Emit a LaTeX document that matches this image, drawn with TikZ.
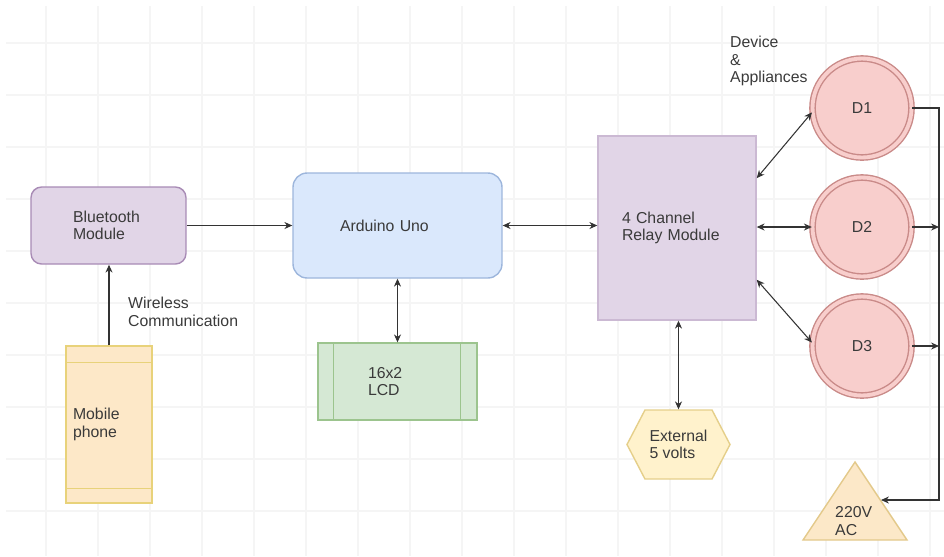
\documentclass[tikz,border=0pt]{standalone}
\usepackage{fontspec}
\setmainfont{Liberation Sans}
\usepackage{xcolor}
\usetikzlibrary{shapes.symbols, arrows.meta, calc}

\definecolor{purplefill}{HTML}{E1D5E7}
\definecolor{purpleline}{HTML}{A88BB5}
\definecolor{bluefill}{HTML}{DAE8FC}
\definecolor{blueline}{HTML}{9DB6DC}
\definecolor{greenfill}{HTML}{D5E8D4}
\definecolor{greenline}{HTML}{9CC48E}
\definecolor{phonefill}{HTML}{FDE8C8}
\definecolor{phoneline}{HTML}{E8D27A}
\definecolor{hexfill}{HTML}{FFF2CC}
\definecolor{hexline}{HTML}{E5CF8A}
\definecolor{circfill}{HTML}{F8CECC}
\definecolor{circline}{HTML}{C98A88}
\definecolor{trifill}{HTML}{FCE8C8}
\definecolor{triline}{HTML}{E3C98A}
\definecolor{textgray}{HTML}{3A3A3A}
\definecolor{wiregray}{HTML}{333333}

\tikzset{
  txt/.style={font=\fontsize{9}{10}\selectfont, text=textgray, align=left},
  block/.style={txt, draw, line width=0.8pt, inner ysep=0pt},
  purplebox/.style={block, fill=purplefill, draw=purpleline},
  bluebox/.style={block, fill=bluefill, draw=blueline},
  greenbox/.style={block, fill=greenfill, draw=greenline},
  phonebox/.style={block, fill=phonefill, draw=phoneline},
  hexbox/.style={block, fill=hexfill, draw=hexline, signal, signal to=west and east, signal pointer angle=125},
  devicecirc/.style={txt, circle, draw=circline, fill=circfill, double=circfill, double distance=2.2pt, line width=0.8pt, minimum size=1.98cm},
  link/.style={-{Stealth[length=4.5pt,width=4pt]}, draw=wiregray, line width=0.6pt},
  duplex/.style={{Stealth[length=4.5pt,width=4pt]}-{Stealth[length=4.5pt,width=4pt]}, draw=wiregray, line width=0.6pt},
  gridline/.style={draw=black!4, line width=0.6pt}
}

\begin{document}
\begin{tikzpicture}[x=0.02cm, y=-0.02cm]
  \useasboundingbox (0,0) rectangle (944,556);
  % background grid
  \foreach \gx in {46,98,...,930} \draw[gridline] (\gx,6) -- (\gx,556);
  \foreach \gy in {43,95,...,511} \draw[gridline] (6,\gy) -- (944,\gy);

  % blocks
  \node[purplebox, rounded corners=6pt, minimum width=3.1cm, minimum height=1.54cm,
        text width=1.42cm, inner xsep=0.84cm] (bluetooth) at (108.5,225.5) {Bluetooth\\Module};
  \node[bluebox, rounded corners=8pt, minimum width=4.18cm, minimum height=2.1cm,
        text width=2.3cm, inner xsep=0.94cm] (arduino) at (397.5,225.5) {Arduino Uno};
  \node[greenbox, minimum width=3.18cm, minimum height=1.54cm,
        text width=1.18cm, inner xsep=1cm] (lcd) at (397.5,381.5) {16x2\\LCD};
  \draw[greenline, line width=0.8pt] ($(lcd.north west)+(16,0)$) -- ($(lcd.south west)+(16,0)$);
  \draw[greenline, line width=0.8pt] ($(lcd.north east)+(-17,0)$) -- ($(lcd.south east)+(-17,0)$);
  \node[phonebox, minimum width=1.72cm, minimum height=3.14cm,
        text width=1.44cm, inner xsep=0.14cm] (phone) at (109,424.5) {Mobile\\phone};
  \draw[phoneline, line width=0.8pt] ($(phone.north west)+(0,17)$) -- ($(phone.north east)+(0,17)$);
  \draw[phoneline, line width=0.8pt] ($(phone.south west)+(0,-15)$) -- ($(phone.south east)+(0,-15)$);
  \node[purplebox, draw=purpleline!60, minimum width=3.16cm, minimum height=3.68cm,
        text width=2.2cm, inner xsep=0.48cm] (relay) at (677,228) {4 Channel\\Relay Module};
  \node[hexbox, minimum width=2.06cm, minimum height=1.38cm, inner xsep=2pt] (supply) at (678.5,444.5) {External\\5 volts};

  % devices
  \node[devicecirc] (d1) at (862,108) {D1};
  \node[devicecirc] (d2) at (862,227) {D2};
  \node[devicecirc] (d3) at (862,346) {D3};
  \node[txt, anchor=west] (devices) at (724,61) {Device\\\&\\Appliances};

  % mains
  \draw[fill=trifill, draw=triline, line width=0.8pt] (855,462) -- (907,540) -- (803,540) -- cycle;
  \node[txt, anchor=west] (ac) at (829,521) {220V\\AC};
  \coordinate (acin) at (881,500);
  \coordinate (bus) at (939,500);

  % connections
  \draw[link] (phone.north) -- (phone.north |- bluetooth.south);
  \node[txt, anchor=west] (wireless) at (122,312) {Wireless\\Communication};
  \draw[link] (bluetooth.east) -- (bluetooth.east -| arduino.west);
  \draw[duplex] (arduino.east) -- (arduino.east -| relay.west);
  \draw[duplex] (arduino.south) -- (lcd.north);
  \draw[duplex] (supply.north |- relay.south) -- (supply.north);
  \draw[duplex] (relay.32) -- (d1.185);
  \draw[duplex] (d2.west -| relay.east) -- (d2.west);
  \draw[duplex] (relay.-33) -- (d3.176);
  \draw[link] (d1.east) -| (bus) -- (acin);
  \draw[link] (d2.east) -- (d2.east -| bus);
  \draw[link] (d3.east) -- (d3.east -| bus);
\end{tikzpicture}
\end{document}
